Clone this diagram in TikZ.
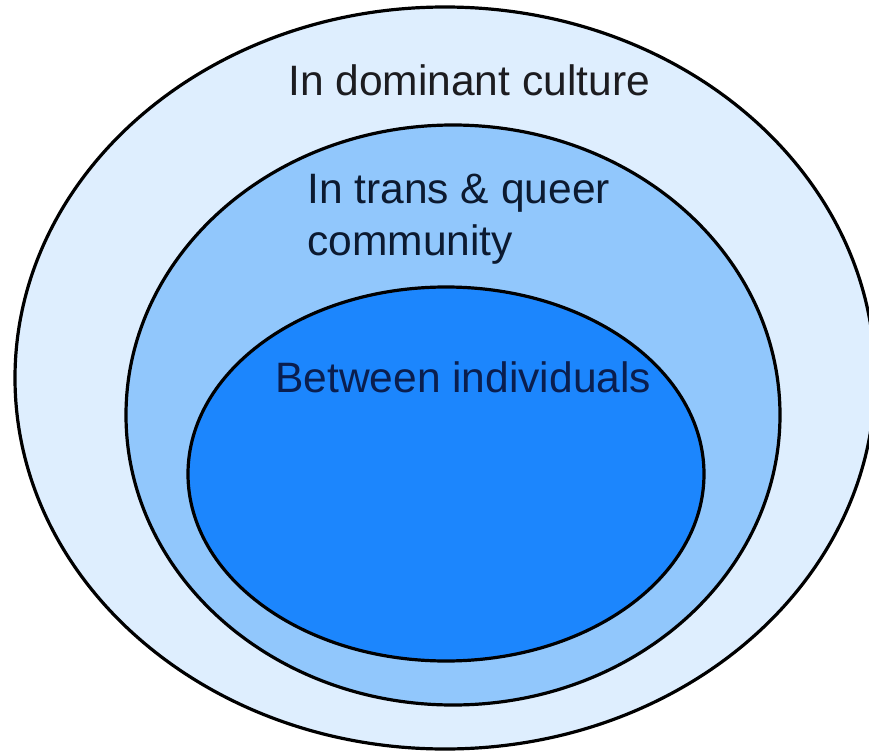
\documentclass[tikz,border=0pt]{standalone}
\usepackage{fontspec}
\setmainfont{Liberation Sans}
\usepackage{tikz}

\begin{document}
\begin{tikzpicture}[x=0.75pt,y=0.75pt,yscale=-1,xscale=1]
%set diagram left start at 0, and has height of 753
\useasboundingbox (0,0) rectangle (869,753);
\clip (0,0) rectangle (869,753);

%Shape: Ellipse [id:outer]
\draw  [line width=2.4, fill={rgb, 255:red, 222; green, 238; blue, 254 }  ,fill opacity=1 ] (445,378) ellipse [x radius=430, y radius=371];
%Shape: Ellipse [id:middle]
\draw  [line width=2.4, fill={rgb, 255:red, 145; green, 199; blue, 252 }  ,fill opacity=1 ] (453,415) ellipse [x radius=327, y radius=290];
%Shape: Ellipse [id:inner]
\draw  [line width=2.4, fill={rgb, 255:red, 28; green, 134; blue, 253 }  ,fill opacity=1 ] (446,474) ellipse [x radius=258, y radius=187];

% Text Node
\draw (288,95) node (cultlbl) [anchor=base west][inner sep=0pt] [font=\fontsize{31.9}{39}\selectfont] [color={rgb, 255:red, 28; green, 28; blue, 32 }] [align=left] {In dominant culture};
% Text Node
\draw (307,255) node (commlbl) [anchor=base west][inner sep=0pt] [font=\fontsize{31.9}{39}\selectfont] [color={rgb, 255:red, 12; green, 26; blue, 48 }] [align=left] {In trans \& queer\\community};
% Text Node
\draw (275,392) node (indivlbl) [anchor=base west][inner sep=0pt] [font=\fontsize{31.9}{39}\selectfont] [color={rgb, 255:red, 10; green, 30; blue, 78 }] [align=left] {Between individuals};

\end{tikzpicture}
\end{document}
